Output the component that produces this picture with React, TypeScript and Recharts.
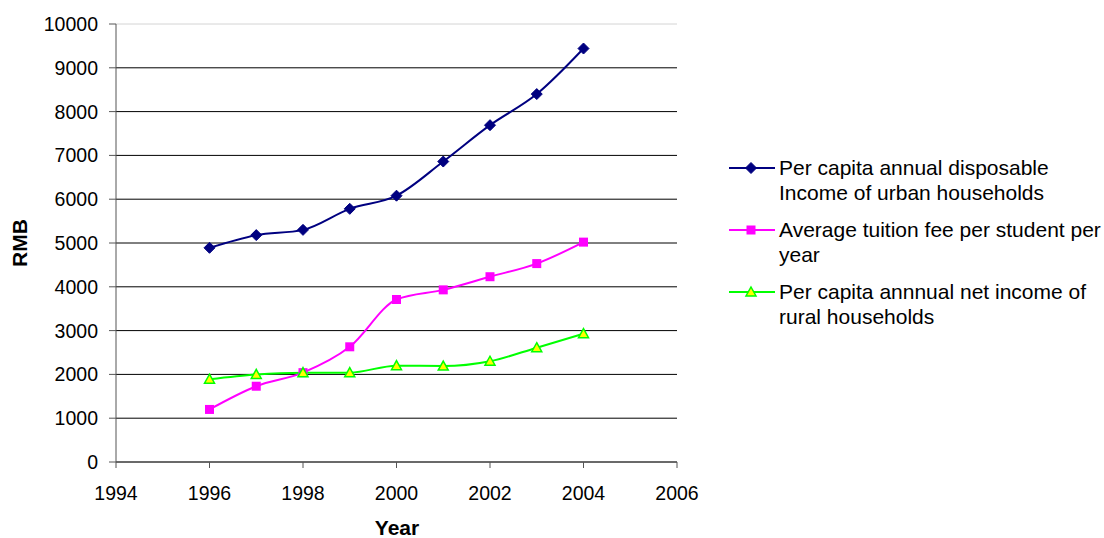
import React from "react";
import { LineChart, Line, XAxis, YAxis, CartesianGrid } from "recharts";

const years = [1996, 1997, 1998, 1999, 2000, 2001, 2002, 2003, 2004];
const urbanIncome = [4890, 5180, 5300, 5780, 6080, 6860, 7690, 8400, 9440];
const tuitionFee = [1200, 1730, 2040, 2630, 3710, 3930, 4230, 4530, 5020];
const ruralIncome = [1890, 2000, 2040, 2040, 2200, 2190, 2300, 2610, 2930];

const xTicks = [1994, 1996, 1998, 2000, 2002, 2004, 2006];
const yTicks = [0, 1000, 2000, 3000, 4000, 5000, 6000, 7000, 8000, 9000, 10000];

const urbanLabel = ["Per capita annual disposable", "Income of urban households"];
const tuitionLabel = ["Average tuition fee per student per", "year"];
const ruralLabel = ["Per capita annnual net income of", "rural households"];

const data = years.map((year, i) => ({
  year,
  urban: urbanIncome[i],
  tuition: tuitionFee[i],
  rural: ruralIncome[i],
}));

const FONT = "'Liberation Sans', Arial, sans-serif";

const Diamond = ({ cx, cy }: { cx?: number; cy?: number }) => {
  if (cx == null || cy == null) return null;
  const r = 5.5;
  return (
    <polygon
      points={`${cx},${cy - r} ${cx + r},${cy} ${cx},${cy + r} ${cx - r},${cy}`}
      fill="#000080"
      stroke="#000080"
      strokeWidth={1}
    />
  );
};

const Square = ({ cx, cy }: { cx?: number; cy?: number }) => {
  if (cx == null || cy == null) return null;
  const s = 9;
  return <rect x={cx - s / 2} y={cy - s / 2} width={s} height={s} fill="#FF00FF" />;
};

const Triangle = ({ cx, cy }: { cx?: number; cy?: number }) => {
  if (cx == null || cy == null) return null;
  const w = 5;
  return (
    <polygon
      points={`${cx},${cy - 5} ${cx + w},${cy + 4} ${cx - w},${cy + 4}`}
      fill="#FFFF00"
      stroke="#00FF00"
      strokeWidth={1.5}
    />
  );
};

const series = [
  { key: "urban", color: "#000080", label: urbanLabel, Dot: Diamond },
  { key: "tuition", color: "#FF00FF", label: tuitionLabel, Dot: Square },
  { key: "rural", color: "#00FF00", label: ruralLabel, Dot: Triangle },
];

const gridLine = (p: any) => (
  <line
    key={`h-${p.index}-${p.y1}`}
    x1={p.x1}
    y1={p.y1}
    x2={p.x2}
    y2={p.y2}
    stroke={p.y1 === p.y ? "#d4d4d4" : "#000"}
    strokeWidth={1}
  />
);

export default function App() {
  return (
    <div style={{ position: "absolute", left: 0, top: 0, width: 1104, height: 538, background: "#fff", fontFamily: FONT, overflow: "hidden" }}>
      <LineChart
        width={1104}
        height={538}
        data={data}
        margin={{ top: 24, right: 427, bottom: 46, left: 16 }}
      >
        <CartesianGrid vertical={false} horizontal={gridLine} />
        <XAxis
          dataKey="year"
          type="number"
          domain={[1994, 2006]}
          ticks={xTicks}
          height={30}
          tickSize={6}
          tickMargin={18}
          stroke="#555"
          tick={{ fill: "#000", fontSize: 19.5, fontFamily: FONT }}
        />
        <YAxis
          domain={[0, 10000]}
          ticks={yTicks}
          width={100}
          tickSize={7}
          tickMargin={11}
          stroke="#555"
          tick={{ fill: "#000", fontSize: 19.5, fontFamily: FONT }}
        />
        {series.map((s) => (
          <Line
            key={s.key}
            type="monotone"
            dataKey={s.key}
            stroke={s.color}
            strokeWidth={2}
            dot={(p: any) => <s.Dot key={`${s.key}-${p.index}`} cx={p.cx} cy={p.cy} />}
            activeDot={false}
            isAnimationActive={false}
          />
        ))}
      </LineChart>

      <div
        style={{
          position: "absolute",
          left: 0,
          top: 223,
          width: 40,
          height: 40,
          display: "flex",
          alignItems: "center",
          justifyContent: "center",
        }}
      >
        <div style={{ transform: "rotate(-90deg)", fontWeight: "bold", fontSize: 21, whiteSpace: "nowrap" }}>RMB</div>
      </div>
      <div
        style={{
          position: "absolute",
          left: 347,
          top: 517,
          width: 100,
          textAlign: "center",
          fontWeight: "bold",
          fontSize: 21,
          lineHeight: "21px",
        }}
      >
        Year
      </div>

      <div style={{ position: "absolute", left: 729, top: 156 }}>
        {series.map((s) => (
          <div key={s.key} style={{ display: "flex", alignItems: "flex-start", marginBottom: 13 }}>
            <svg width={48} height={24} style={{ flex: "none" }}>
              <line x1={0} y1={12} x2={46} y2={12} stroke={s.color} strokeWidth={2} />
              <s.Dot cx={22} cy={12} />
            </svg>
            <div style={{ fontSize: 21, lineHeight: "24.5px", color: "#000", marginLeft: 2, whiteSpace: "nowrap" }}>
              {s.label.map((line, i) => (
                <div key={i}>{line}</div>
              ))}
            </div>
          </div>
        ))}
      </div>
    </div>
  );
}
